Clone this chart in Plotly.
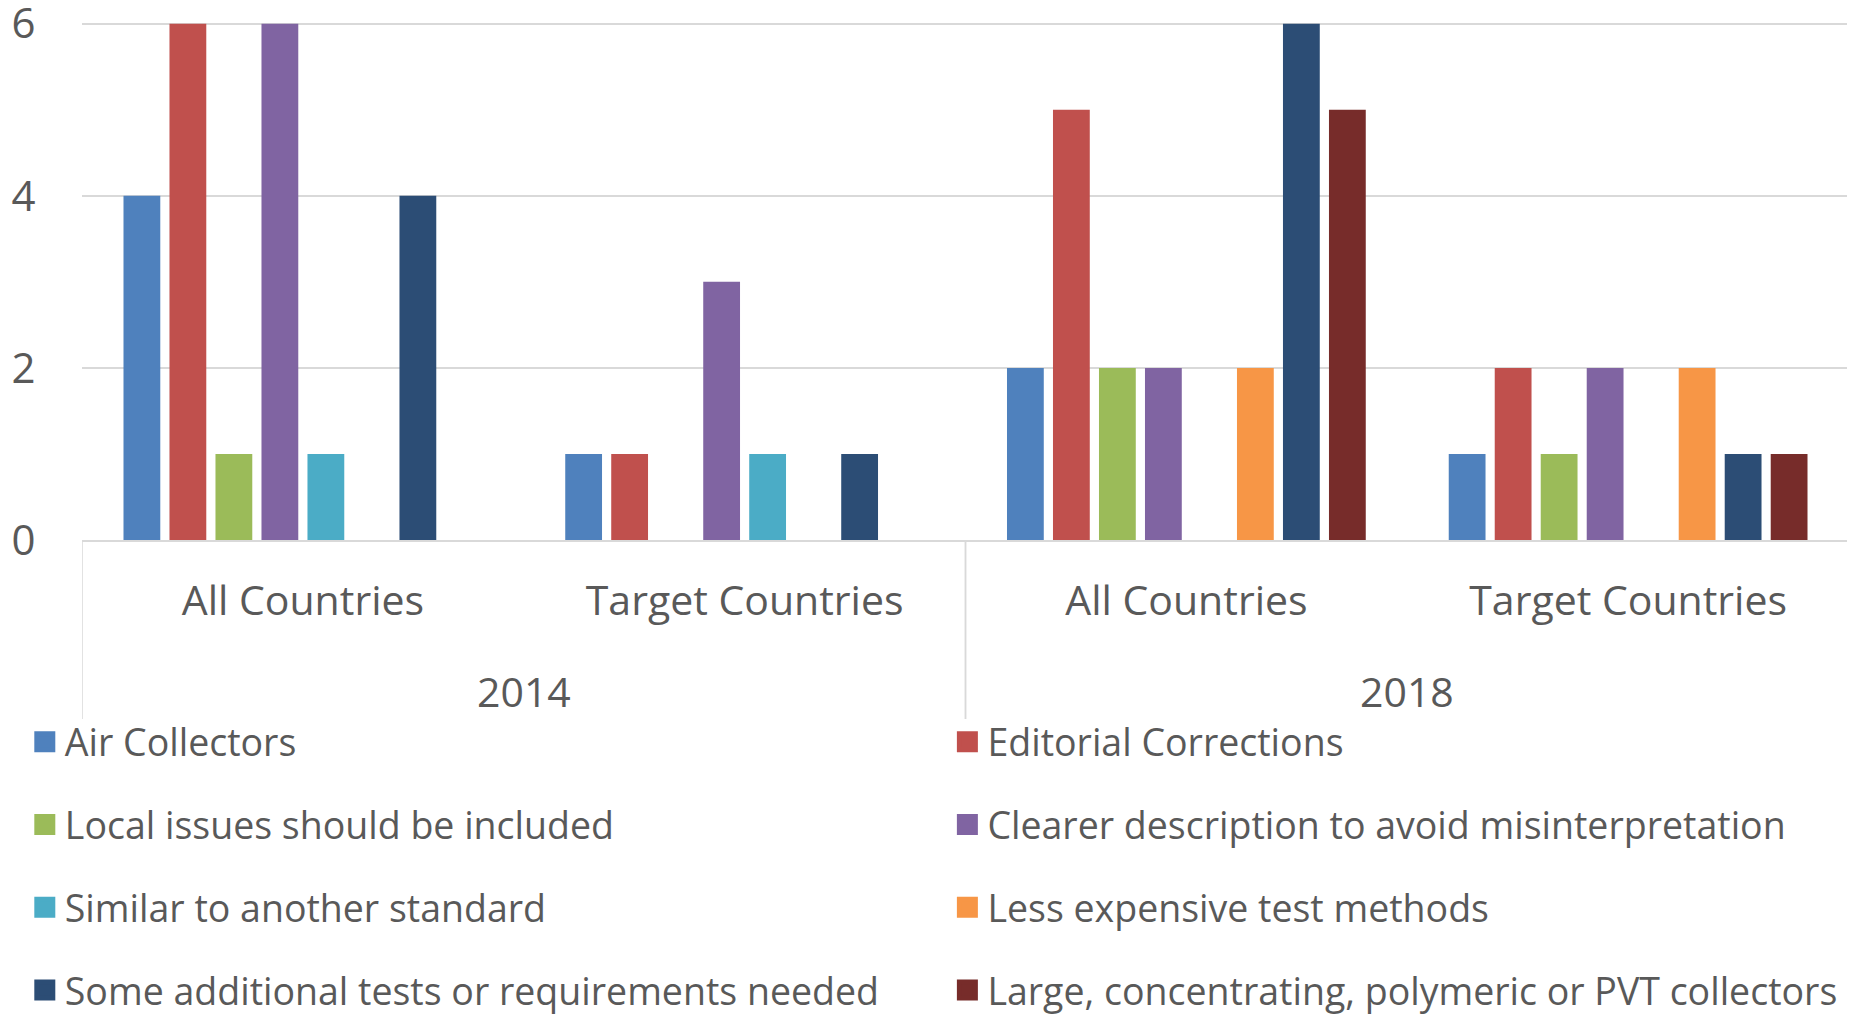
import plotly.graph_objects as go

# two-level categories
years = ["2014", "2014", "2018", "2018"]
groups = ["All Countries", "Target Countries", "All Countries", "Target Countries"]

# series values, one per category
air_collectors = [4, 1, 2, 1]
editorial_corrections = [6, 1, 5, 2]
local_issues = [1, 0, 2, 1]
clearer_description = [6, 3, 2, 2]
similar_standard = [1, 1, 0, 0]
less_expensive = [0, 0, 2, 2]
additional_tests = [4, 1, 6, 1]
large_collectors = [0, 0, 5, 1]

y_ticks = [0, 2, 4, 6]

series = [
    ("Air Collectors", air_collectors, "#4F81BD"),
    ("Editorial Corrections", editorial_corrections, "#C0504D"),
    ("Local issues should be included", local_issues, "#9BBB59"),
    ("Clearer description to avoid misinterpretation", clearer_description, "#8064A2"),
    ("Similar to another standard", similar_standard, "#4BACC6"),
    ("Less expensive test methods", less_expensive, "#F79646"),
    ("Some additional tests or requirements needed", additional_tests, "#2C4D75"),
    ("Large, concentrating, polymeric or PVT collectors", large_collectors, "#772C2A"),
]

FONT = "Open Sans"
GREY = "#595959"
LINE = "#D9D9D9"

xs = list(range(len(groups)))

fig = go.Figure()
for i, (name, vals, color) in enumerate(series):
    # excel fills the legend row by row -> odd entries go to the right column
    leg = "legend" if i % 2 == 0 else "legend2"
    fig.add_trace(go.Bar(
        x=xs, y=vals, name=name, legendgroup=name, showlegend=False,
        marker=dict(color=color, line=dict(width=0)),
    ))
    # legend-only entry: bar legend swatches are tiny, a square marker gets closer to excel's
    fig.add_trace(go.Scatter(
        x=[None], y=[None], mode="markers", name=name, legendgroup=name, legend=leg,
        marker=dict(symbol="square", size=16, color=color, line=dict(width=5, color=color)),
        hoverinfo="skip",
    ))

# year labels and the dividers between year blocks
for yr in dict.fromkeys(years):
    idx = [i for i, y in enumerate(years) if y == yr]
    fig.add_annotation(
        x=sum(idx) / len(idx), y=-0.2915, xref="x", yref="paper",
        text=yr, showarrow=False, yanchor="middle",
        font=dict(family=FONT, size=41, color=GREY),
    )
    for edge in (min(idx) - 0.5, max(idx) + 0.5):
        fig.add_shape(
            type="line", xref="x", yref="paper",
            x0=edge, x1=edge, y0=0, y1=-0.3456,
            line=dict(color=LINE, width=1.5),
        )

legend_common = dict(
    orientation="v", xref="container", yref="container",
    yanchor="top", xanchor="left",
    font=dict(family=FONT, size=37.5, color=GREY),
    tracegroupgap=31, bgcolor="rgba(0,0,0,0)",
)

# page body has an 8px margin, so the figure is 8px smaller than the window
fig.update_layout(
    width=1847, height=1006,
    margin=dict(l=74, r=6, t=14, b=474, autoexpand=False),
    plot_bgcolor="white", paper_bgcolor="white",
    font=dict(family=FONT, color=GREY, size=38),
    barmode="group", bargap=0.167, bargroupgap=0.2,
    showlegend=True,
    legend=dict(x=0.0091, y=0.3012, **legend_common),
    legend2=dict(x=0.5086, y=0.3012, **legend_common),
)

fig.update_xaxes(
    range=[-0.5, len(groups) - 0.5],
    tickvals=xs, ticktext=groups,
    showline=True, linecolor=LINE, linewidth=1.5,
    tickfont=dict(family=FONT, size=41, color=GREY),
    ticks="", showgrid=False, zeroline=False,
    ticklabelstandoff=24, automargin=False,
)
fig.update_yaxes(
    range=[0, 6.02], tickvals=y_ticks,
    showgrid=True, gridcolor=LINE, gridwidth=1.5,
    zeroline=False, showline=False,
    tickfont=dict(family=FONT, size=42, color=GREY),
    ticks="outside", ticklen=37, tickcolor="rgba(0,0,0,0)",
    ticklabeloverflow="allow", automargin=False,
)

fig.write_html("out.html")
